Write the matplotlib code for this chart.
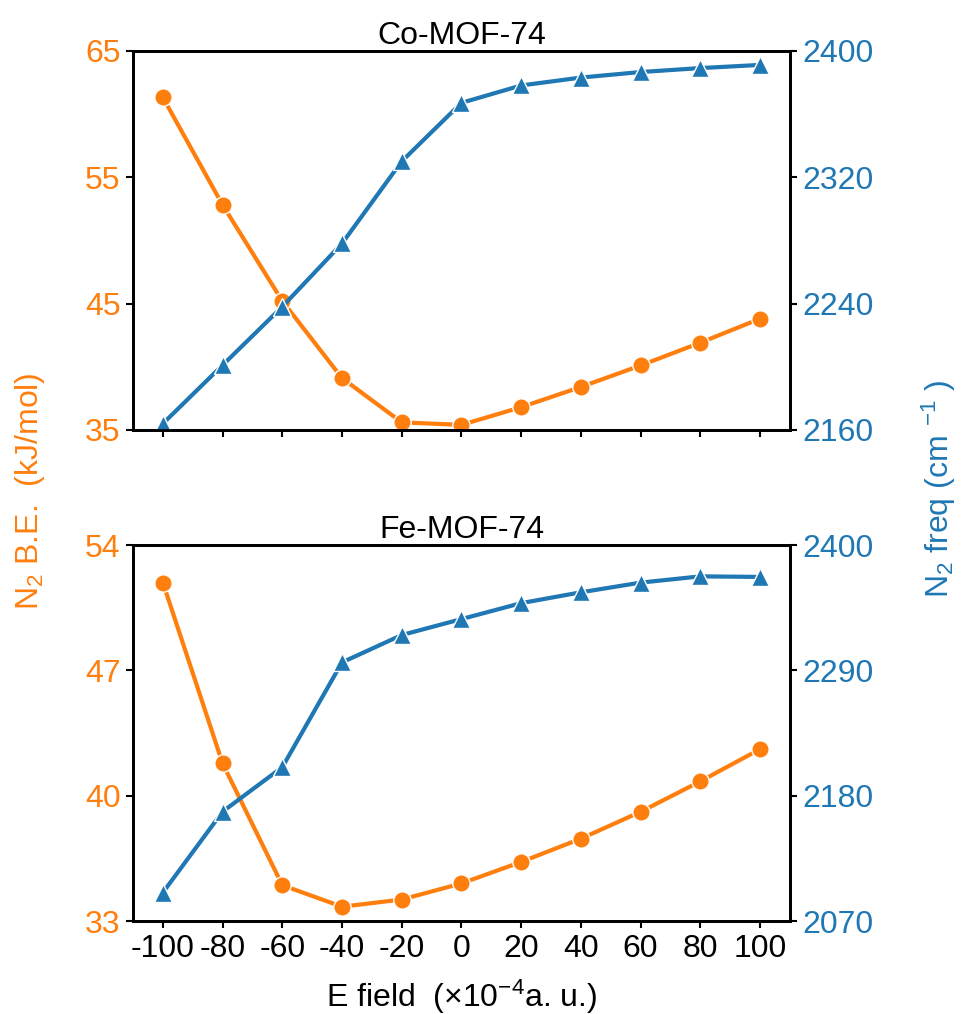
import matplotlib.pyplot as plt

plt.rcParams['font.family'] = ['Liberation Sans', 'DejaVu Sans']
plt.rcParams['mathtext.fontset'] = 'custom'
plt.rcParams['mathtext.rm'] = 'Liberation Sans'
plt.rcParams['mathtext.it'] = 'Liberation Sans:italic'
plt.rcParams['axes.unicode_minus'] = False

# E field values (x10^-4 a.u.)
efield = [-100, -80, -60, -40, -20, 0, 20, 40, 60, 80, 100]

# Co-MOF-74
co_be = [61.3, 52.8, 45.2, 39.1, 35.6, 35.4, 36.8, 38.4, 40.1, 41.9, 43.8]
co_freq = [2164, 2201, 2238, 2278, 2330, 2367, 2378, 2383, 2386.5, 2389, 2391]

# Fe-MOF-74
fe_be = [51.9, 41.8, 35.0, 33.8, 34.2, 35.1, 36.3, 37.6, 39.1, 40.8, 42.6]
fe_freq = [2095, 2166, 2205, 2297, 2321, 2335, 2349, 2358.5, 2367, 2372.5, 2372]

titles = ['Co-MOF-74', 'Fe-MOF-74']
be_ticks = [[35, 45, 55, 65], [33, 40, 47, 54]]
freq_ticks = [[2160, 2240, 2320, 2400], [2070, 2180, 2290, 2400]]

orange = '#ff7f0e'
blue = '#1f77b4'
fs = 23

fig = plt.figure(figsize=(9.66, 10.14), dpi=100)
ax_top = fig.add_axes([0.1377, 0.576, 0.680, 0.374])
ax_bot = fig.add_axes([0.1377, 0.0917, 0.680, 0.3708])

panels = [(ax_top, co_be, co_freq), (ax_bot, fe_be, fe_freq)]
for i, (ax, be, freq) in enumerate(panels):
    ax.plot(efield, be, color=orange, lw=3, marker='o', ms=12.5,
            mec='white', mew=1)
    ax.set_ylim(be_ticks[i][0], be_ticks[i][-1])
    ax.set_yticks(be_ticks[i])
    ax.set_xlim(-110, 110)
    ax.set_xticks(efield)
    ax.tick_params(axis='y', labelcolor=orange, labelsize=fs, length=5, width=1.5, pad=4)
    ax.tick_params(axis='x', labelsize=fs, length=5, width=1.5, pad=4)
    ax.set_title(titles[i], fontsize=fs, pad=4)

    ax2 = ax.twinx()
    ax2.plot(efield, freq, color=blue, lw=3, marker='^', ms=12.5,
             mec='white', mew=1)
    ax2.set_ylim(freq_ticks[i][0], freq_ticks[i][-1])
    ax2.set_yticks(freq_ticks[i])
    ax2.tick_params(axis='y', labelcolor=blue, labelsize=fs, length=5, width=1.5, pad=4)

    for a in (ax, ax2):
        for sp in a.spines.values():
            sp.set_linewidth(2)

ax_top.tick_params(axis='x', labelbottom=False)

ax_bot.set_xlabel(r'E field  (×10$^{-4}$a. u.)', fontsize=fs, labelpad=10)

fig.text(0.031, 0.516, r'N$_2$ B.E.  (kJ/mol)', rotation=90, color=orange,
         fontsize=fs, ha='center', va='center')
fig.text(0.972, 0.518, r'N$_2$ freq (cm $^{-1}$ )', rotation=90, color=blue,
         fontsize=fs, ha='center', va='center')

fig.savefig('out.png', dpi=100)
